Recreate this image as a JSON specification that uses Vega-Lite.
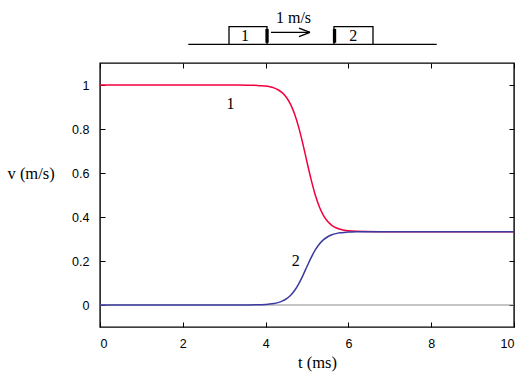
{
  "$schema": "https://vega.github.io/schema/vega-lite/v6.json",
  "width": 414,
  "height": 264,
  "autosize": "none",
  "padding": {"left": 100, "top": 63, "right": 16, "bottom": 50},
  "background": "white",
  "config": {
    "view": {"stroke": "#000", "strokeWidth": 1.4},
    "axis": {"domain": false, "labelColor": "#000", "titleColor": "#000", "titleFontWeight": "normal"}
  },
  "datasets": {
    "curves": [
      {"t": 0, "v": 1, "s": "1"}, {"t": 3.3, "v": 1, "s": "1"}, {"t": 3.6, "v": 0.9993, "s": "1"}, {"t": 3.8, "v": 0.9982, "s": "1"}, {"t": 3.9, "v": 0.997, "s": "1"},
      {"t": 4.0, "v": 0.9951, "s": "1"}, {"t": 4.1, "v": 0.9919, "s": "1"}, {"t": 4.2, "v": 0.9868, "s": "1"}, {"t": 4.3, "v": 0.9785, "s": "1"},
      {"t": 4.4, "v": 0.9652, "s": "1"}, {"t": 4.5, "v": 0.9446, "s": "1"}, {"t": 4.6, "v": 0.9133, "s": "1"}, {"t": 4.7, "v": 0.8681, "s": "1"},
      {"t": 4.8, "v": 0.8073, "s": "1"}, {"t": 4.9, "v": 0.7325, "s": "1"}, {"t": 5.0, "v": 0.65, "s": "1"}, {"t": 5.1, "v": 0.5696, "s": "1"},
      {"t": 5.2, "v": 0.4998, "s": "1"}, {"t": 5.3, "v": 0.4453, "s": "1"}, {"t": 5.4, "v": 0.4061, "s": "1"}, {"t": 5.5, "v": 0.3794, "s": "1"},
      {"t": 5.6, "v": 0.3621, "s": "1"}, {"t": 5.7, "v": 0.3511, "s": "1"}, {"t": 5.8, "v": 0.3442, "s": "1"}, {"t": 5.9, "v": 0.34, "s": "1"},
      {"t": 6.0, "v": 0.3374, "s": "1"}, {"t": 6.2, "v": 0.3348, "s": "1"}, {"t": 6.4, "v": 0.3339, "s": "1"}, {"t": 6.8, "v": 0.3334, "s": "1"},
      {"t": 10, "v": 0.3333, "s": "1"},
      {"t": 0, "v": 0, "s": "2"}, {"t": 3.3, "v": 0, "s": "2"}, {"t": 3.6, "v": 0.0003, "s": "2"}, {"t": 3.8, "v": 0.0009, "s": "2"}, {"t": 3.9, "v": 0.0015, "s": "2"},
      {"t": 4.0, "v": 0.0025, "s": "2"}, {"t": 4.1, "v": 0.004, "s": "2"}, {"t": 4.2, "v": 0.0066, "s": "2"}, {"t": 4.3, "v": 0.0108, "s": "2"},
      {"t": 4.4, "v": 0.0174, "s": "2"}, {"t": 4.5, "v": 0.0277, "s": "2"}, {"t": 4.6, "v": 0.0434, "s": "2"}, {"t": 4.7, "v": 0.0659, "s": "2"},
      {"t": 4.8, "v": 0.0964, "s": "2"}, {"t": 4.9, "v": 0.1338, "s": "2"}, {"t": 5.0, "v": 0.175, "s": "2"}, {"t": 5.1, "v": 0.2152, "s": "2"},
      {"t": 5.2, "v": 0.2501, "s": "2"}, {"t": 5.3, "v": 0.2773, "s": "2"}, {"t": 5.4, "v": 0.297, "s": "2"}, {"t": 5.5, "v": 0.3103, "s": "2"},
      {"t": 5.6, "v": 0.319, "s": "2"}, {"t": 5.7, "v": 0.3245, "s": "2"}, {"t": 5.8, "v": 0.3279, "s": "2"}, {"t": 5.9, "v": 0.33, "s": "2"},
      {"t": 6.0, "v": 0.3313, "s": "2"}, {"t": 6.2, "v": 0.3326, "s": "2"}, {"t": 6.4, "v": 0.3331, "s": "2"}, {"t": 6.8, "v": 0.3333, "s": "2"},
      {"t": 10, "v": 0.3333, "s": "2"}
    ],
    "segments": [
      {"x": 2.133, "x2": 8.133, "y": 1.185, "y2": 1.185},
      {"x": 4.13, "x2": 5.072, "y": 1.2395, "y2": 1.2395},
      {"x": 4.807, "x2": 5.072, "y": 1.259, "y2": 1.2395},
      {"x": 4.807, "x2": 5.072, "y": 1.2195, "y2": 1.2395}
    ],
    "boxes": [
      {"x": 3.116, "x2": 4.034, "y": 1.265, "y2": 1.185},
      {"x": 5.652, "x2": 6.594, "y": 1.265, "y2": 1.185}
    ],
    "bars": [
      {"x": 3.995, "x2": 4.075, "y": 1.255, "y2": 1.192},
      {"x": 5.625, "x2": 5.705, "y": 1.255, "y2": 1.192}
    ],
    "labels": [
      {"x": 3.15, "y": 0.9136, "label": "1"},
      {"x": 4.73, "y": 0.2, "label": "2"},
      {"x": 3.502, "y": 1.225, "label": "1"},
      {"x": 6.118, "y": 1.225, "label": "2"},
      {"x": 4.674, "y": 1.305, "label": "1 m/s"}
    ],
    "zero": [{"v": 0}]
  },
  "resolve": {"axis": {"x": "independent", "y": "independent"}},
  "layer": [
    {
      "data": {"name": "zero"},
      "mark": {"type": "rule", "color": "#8c8c8c", "strokeWidth": 1},
      "encoding": {
        "y": {"field": "v", "type": "quantitative", "scale": {"domain": [-0.1, 1.1], "nice": false, "zero": false}, "axis": null}
      }
    },
    {
      "data": {"name": "curves"},
      "mark": {"type": "line", "strokeWidth": 1.5, "interpolate": "monotone"},
      "encoding": {
        "x": {"field": "t", "type": "quantitative", "scale": {"domain": [0, 10], "nice": false, "zero": false},
          "axis": {"orient": "bottom", "values": [0, 2, 4, 6, 8, 10], "ticks": false, "grid": true, "gridColor": "#000", "gridOpacity": 1, "gridWidth": 1, "gridDash": [5, 254, 5, 1000],
            "labelFont": "Liberation Sans", "labelFontSize": 12.5, "labelPadding": 10,
            "title": "t (ms)", "titleFont": "Liberation Serif", "titleFontSize": 16.5, "titleX": 217, "titleY": 40, "titleBaseline": "alphabetic"}},
        "y": {"field": "v", "type": "quantitative", "scale": {"domain": [-0.1, 1.1], "nice": false, "zero": false},
          "axis": {"orient": "left", "values": [0, 0.2, 0.4, 0.6, 0.8, 1], "format": "~g", "ticks": false, "grid": true, "gridColor": "#000", "gridOpacity": 1, "gridWidth": 1, "gridDash": [5, 404, 5, 1000],
            "labelFont": "Liberation Sans", "labelFontSize": 12.5, "labelPadding": 11,
            "title": "v (m/s)", "titleFont": "Liberation Serif", "titleFontSize": 16.5, "titleAngle": 0, "titleAlign": "left", "titleBaseline": "middle", "titleX": -93, "titleY": 110}},
        "color": {"field": "s", "type": "nominal", "scale": {"domain": ["1", "2"], "range": ["#f2003c", "#3a3aa0"]}, "legend": null},
        "order": {"field": "t", "type": "quantitative"}
      }
    },
    {
      "data": {"name": "segments"},
      "mark": {"type": "rule", "color": "#000", "strokeWidth": 1.3},
      "encoding": {
        "x": {"field": "x", "type": "quantitative", "axis": null},
        "x2": {"field": "x2"},
        "y": {"field": "y", "type": "quantitative", "axis": null},
        "y2": {"field": "y2"}
      }
    },
    {
      "data": {"name": "boxes"},
      "mark": {"type": "rect", "fill": "white", "stroke": "#000", "strokeWidth": 1.3},
      "encoding": {
        "x": {"field": "x", "type": "quantitative", "axis": null},
        "x2": {"field": "x2"},
        "y": {"field": "y", "type": "quantitative", "axis": null},
        "y2": {"field": "y2"}
      }
    },
    {
      "data": {"name": "bars"},
      "mark": {"type": "rect", "fill": "#000"},
      "encoding": {
        "x": {"field": "x", "type": "quantitative", "axis": null},
        "x2": {"field": "x2"},
        "y": {"field": "y", "type": "quantitative", "axis": null},
        "y2": {"field": "y2"}
      }
    },
    {
      "data": {"name": "labels"},
      "mark": {"type": "text", "font": "Liberation Serif", "fontSize": 16, "color": "#000", "align": "center", "baseline": "middle"},
      "encoding": {
        "x": {"field": "x", "type": "quantitative", "axis": null},
        "y": {"field": "y", "type": "quantitative", "axis": null},
        "text": {"field": "label"}
      }
    }
  ]
}
